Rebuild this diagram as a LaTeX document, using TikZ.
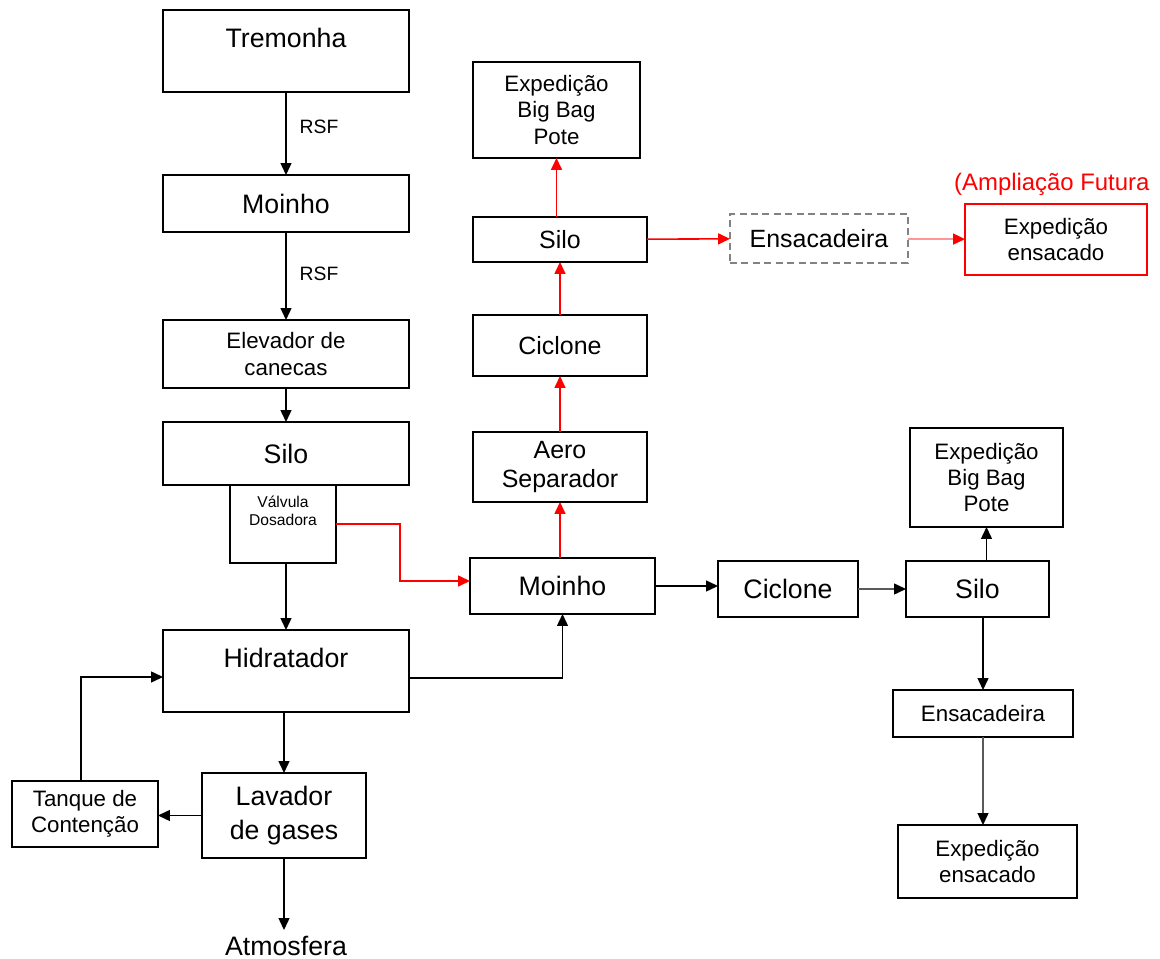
\documentclass[tikz,border=0pt]{standalone}
\usepackage{fontspec}
\setmainfont{Liberation Sans}
\usetikzlibrary{positioning,arrows.meta,calc}
\definecolor{flowred}{RGB}{255,0,0}
\definecolor{softred}{RGB}{255,150,150}
\definecolor{dashgray}{RGB}{130,130,130}
\definecolor{linegray}{RGB}{90,90,90}
\tikzset{
  process-box/.style={draw=black, line width=0.9pt, inner sep=0pt, outer sep=0pt,
    align=center, fill=white},
  future-box/.style={draw=flowred, line width=0.9pt, inner sep=0pt, outer sep=0pt,
    align=center, fill=white},
  dashed-box/.style={draw=dashgray, dash pattern=on 4pt off 2.5pt, line width=0.9pt, inner sep=0pt, outer sep=0pt,
    align=center, fill=white},
  big-text/.style={font=\fontsize{15.2}{19.3}\selectfont, align=center},
  mid-text/.style={font=\fontsize{14.2}{17}\selectfont, align=center},
  small-text/.style={font=\fontsize{12.7}{15}\selectfont, align=center},
  tiny-text/.style={font=\fontsize{8.9}{10.3}\selectfont, align=center},
  rsf-text/.style={font=\fontsize{11}{13}\selectfont, inner sep=0pt},
  note-text/.style={font=\fontsize{13.6}{16}\selectfont, text=flowred},
  flow-arrow/.style={-{Triangle[length=2.4mm,width=2.2mm]}, line width=0.8pt, draw=black},
  gray-arrow/.style={-{Triangle[length=2.4mm,width=2.2mm,color=black]}, line width=0.8pt, draw=linegray},
  red-arrow/.style={-{Triangle[length=2.4mm,width=2.2mm]}, line width=0.9pt, draw=flowred},
  soft-arrow/.style={-{Triangle[length=2.4mm,width=2.2mm,color=flowred]}, line width=1pt, draw=softred}
}
\begin{document}
\begin{tikzpicture}[x=0.02cm, y=-0.02cm]
\useasboundingbox (0,0) rectangle (1160,959);
% left column
\node[process-box, minimum width=4.92cm, minimum height=1.64cm] (trem) at (286,51) {};
\node[big-text] (trem-txt) at (286,38) {Tremonha};
\node[process-box, big-text, minimum width=4.92cm, minimum height=1.14cm] (moi1) at (286,203.5) {Moinho};
\node[process-box, small-text, minimum width=4.92cm, minimum height=1.36cm] (elev) at (286,354) {Elevador de\\canecas};
\node[process-box, big-text, minimum width=4.92cm, minimum height=1.26cm] (silo1) at (286,453.5) {Silo};
\node[process-box, minimum width=2.12cm, minimum height=1.56cm] (valv) at (283,524) {};
\node[tiny-text] (valv-txt) at (283,511) {Válvula\\Dosadora};
\node[process-box, minimum width=4.92cm, minimum height=1.64cm] (hid) at (286,671) {};
\node[big-text] (hid-txt) at (286,658) {Hidratador};
\node[process-box, big-text, minimum width=3.28cm, minimum height=1.70cm] (lav) at (284,815.5) {Lavador\\de gases};
\node[process-box, small-text, minimum width=2.92cm, minimum height=1.32cm] (tank) at (85,814) {Tanque de\\Contenção};
\node[big-text] (atm) at (286,946) {Atmosfera};
% red line (upper middle)
\node[process-box, big-text, minimum width=3.70cm, minimum height=1.12cm] (m2) at (562.5,586) {Moinho};
\node[process-box, mid-text, minimum width=3.48cm, minimum height=1.40cm] (aero) at (560,467) {Aero\\Separador};
\node[process-box, mid-text, minimum width=3.48cm, minimum height=1.22cm] (cic1) at (560,345.5) {Ciclone};
\node[process-box, mid-text, minimum width=3.48cm, minimum height=0.90cm] (silo2) at (560,239.5) {Silo};
\node[process-box, small-text, minimum width=3.34cm, minimum height=1.92cm] (exp1) at (556.5,110) {Expedição\\Big Bag\\Pote};
\node[dashed-box, mid-text, minimum width=3.56cm, minimum height=0.98cm] (ens1) at (819,238.5) {Ensacadeira};
\node[future-box, small-text, minimum width=3.64cm, minimum height=1.42cm] (exp2) at (1056,239.5) {Expedição\\ensacado};
\node[note-text, anchor=west] (amp) at (948,184) {(Ampliação Futura};
% right column
\node[process-box, big-text, minimum width=2.80cm, minimum height=1.12cm] (cic2) at (788,589) {Ciclone};
\node[process-box, big-text, minimum width=2.86cm, minimum height=1.12cm] (silo3) at (977.5,589) {Silo};
\node[process-box, small-text, minimum width=3.06cm, minimum height=1.98cm] (exp3) at (986.5,477.5) {Expedição\\Big Bag\\Pote};
\node[process-box, small-text, minimum width=3.60cm, minimum height=0.94cm] (ens2) at (983,713.5) {Ensacadeira};
\node[process-box, small-text, minimum width=3.58cm, minimum height=1.46cm] (exp4) at (987.5,861.5) {Expedição\\ensacado};

\draw[flow-arrow] (trem) -- node[rsf-text, pos=0.42, right=0.26cm] (rsf1) {RSF} (moi1);
\draw[flow-arrow] (moi1) -- node[rsf-text, pos=0.47, right=0.26cm] (rsf2) {RSF} (elev);
\draw[flow-arrow] (elev) -- (silo1);
\draw[flow-arrow] (valv.south -| hid.north) -- (hid.north);
\draw[flow-arrow] (hid.south -| lav.north) -- (lav.north);
\draw[flow-arrow] (lav.west) -- (lav.west -| tank.east);
\draw[flow-arrow] (lav.south) -- (lav.south |- atm.north);
\draw[flow-arrow] ([xshift=-0.08cm]tank.north) |- ([yshift=-0.12cm]hid.west);
\draw[flow-arrow] ([yshift=-0.14cm]hid.east) -| (m2.south);
\draw[red-arrow] (valv.east) -- ++(64,0) |- ([yshift=0.1cm]m2.west);
\draw[red-arrow] (m2.north -| aero.south) -- (aero.south);
\draw[red-arrow] (aero) -- (cic1);
\draw[red-arrow] (cic1) -- (silo2);
\draw[red-arrow] (silo2.north -| exp1.south) -- (exp1.south);
\draw[red-arrow] (silo2) -- (ens1);
\draw[soft-arrow] (ens1) -- (exp2);
\draw[flow-arrow] (m2.east) -- (m2.east -| cic2.west);
\draw[gray-arrow] (cic2) -- (silo3);
\draw[flow-arrow] (silo3.north -| exp3.south) -- (exp3.south);
\draw[flow-arrow] (silo3.south -| ens2.north) -- (ens2.north);
\draw[gray-arrow] (ens2.south) -- (ens2.south |- exp4.north);
\end{tikzpicture}
\end{document}
